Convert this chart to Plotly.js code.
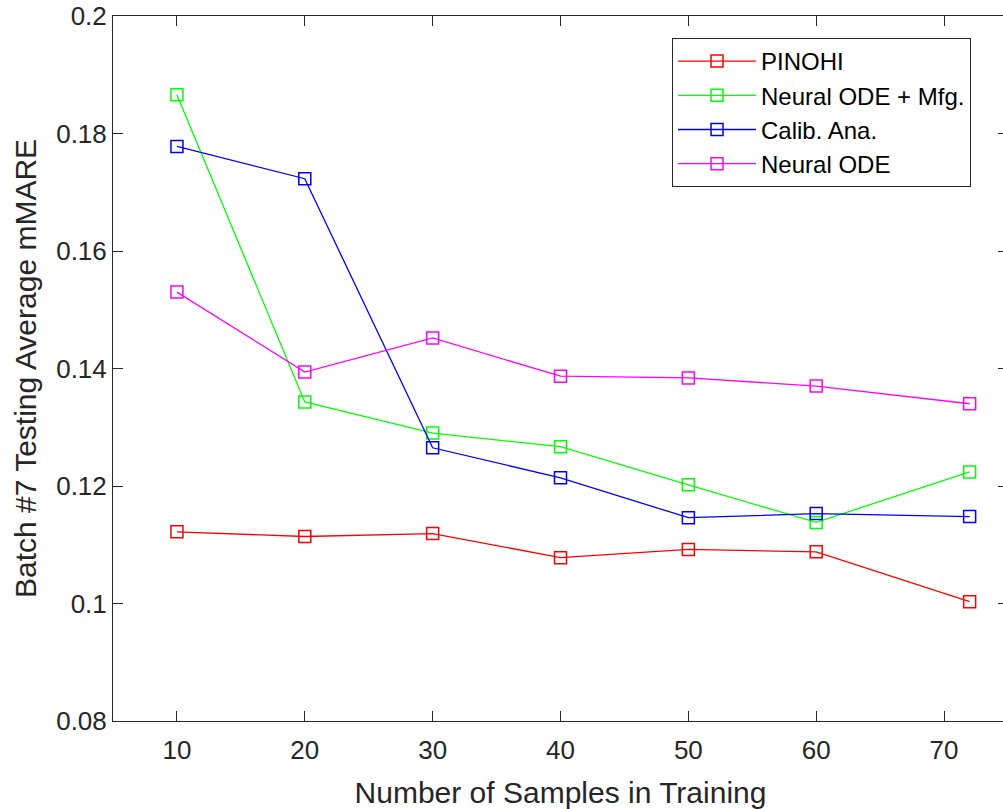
<!DOCTYPE html>
<html>
<head>
<meta charset="utf-8">
<script src="https://cdn.plot.ly/plotly-3.0.1.min.js"></script>
<style>
html,body{margin:0;padding:0;overflow:hidden;background:#fff;}
#chart{width:1010px;height:809px;}
</style>
</head>
<body>
<div id="chart"></div>
<script>
const samples = [10, 20, 30, 40, 50, 60, 72];
const pinohi = [0.1122, 0.1114, 0.1119, 0.1078, 0.1092, 0.1088, 0.1003];
const neuralOdeMfg = [0.1866, 0.1343, 0.1290, 0.1267, 0.1202, 0.1138, 0.1224];
const calibAna = [0.1778, 0.1723, 0.1265, 0.1214, 0.1146, 0.1153, 0.1148];
const neuralOde = [0.1530, 0.1394, 0.1452, 0.1387, 0.1384, 0.1370, 0.1340];

const seriesNames = ['PINOHI', 'Neural ODE + Mfg.', 'Calib. Ana.', 'Neural ODE'];
const seriesColors = ['#ff0000', '#00ff00', '#0000ff', '#ff00ff'];
const seriesValues = [pinohi, neuralOdeMfg, calibAna, neuralOde];

const xTickVals = [10, 20, 30, 40, 50, 60, 70];
const yTickVals = [0.08, 0.1, 0.12, 0.14, 0.16, 0.18, 0.2];
const yTickText = ['0.08', '0.1', '0.12', '0.14', '0.16', '0.18', '0.2'];

const ink = '#262626';
const fontFam = 'Liberation Sans, Arial, Helvetica, sans-serif';

const traces = seriesValues.map((vals, i) => ({
  x: samples,
  y: vals,
  name: seriesNames[i],
  type: 'scatter',
  mode: 'lines+markers',
  line: {color: seriesColors[i], width: 1.3},
  marker: {symbol: 'square-open', size: 12, color: seriesColors[i], line: {width: 1.5, color: seriesColors[i]}}
}));

const layout = {
  width: 1010,
  height: 809,
  margin: {l: 113, r: 2, t: 16, b: 88},
  paper_bgcolor: '#ffffff',
  plot_bgcolor: '#ffffff',
  font: {family: fontFam, color: ink, size: 26},
  showlegend: true,
  legend: {
    x: 0.6246, y: 0.9688, xanchor: 'left', yanchor: 'top',
    bgcolor: '#ffffff', bordercolor: ink, borderwidth: 1,
    font: {family: fontFam, size: 24, color: '#000000'},
    itemwidth: 78,
    tracegroupgap: 0
  },
  xaxis: {
    range: [5, 75],
    tickvals: xTickVals,
    ticks: 'inside', ticklen: 10, tickwidth: 1, tickcolor: ink,
    ticklabelstandoff: 6,
    showline: true, linecolor: ink, linewidth: 1, mirror: 'ticks',
    showgrid: false, zeroline: false,
    tickfont: {family: fontFam, size: 26, color: ink},
    title: {text: 'Number of Samples in Training', font: {family: fontFam, size: 30, color: ink}, standoff: 20}
  },
  yaxis: {
    range: [0.08, 0.2],
    tickvals: yTickVals,
    ticktext: yTickText,
    ticks: 'inside', ticklen: 10, tickwidth: 1, tickcolor: ink,
    showline: true, linecolor: ink, linewidth: 1, mirror: 'ticks',
    showgrid: false, zeroline: false,
    tickfont: {family: fontFam, size: 26, color: ink},
    title: {text: 'Batch #7 Testing Average mMARE', font: {family: fontFam, size: 30, color: ink}, standoff: 10}
  }
};

Plotly.newPlot('chart', traces, layout, {displayModeBar: false, staticPlot: true});
</script>
</body>
</html>
